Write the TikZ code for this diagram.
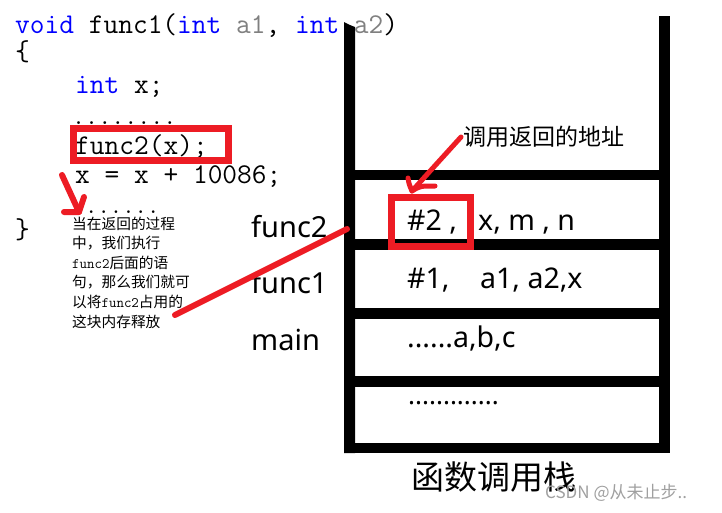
\documentclass[tikz,border=0pt]{standalone}
\usepackage{fontspec}
\newfontfamily\cjk{Noto Sans CJK SC}
\newfontfamily\lat{Noto Sans}
\definecolor{redmark}{HTML}{ED1C24}
\definecolor{kwblue}{HTML}{0000FF}
\definecolor{argray}{HTML}{808080}
\definecolor{wmgray}{HTML}{A0A0A0}
\begin{document}
\begin{tikzpicture}[x=1pt,y=-1pt,
  code/.style={anchor=base west,inner sep=0pt,font=\fontsize{28.6}{28.6}\selectfont\ttfamily},
  dots/.style={anchor=base west,inner sep=0pt},
  note/.style={anchor=base west,inner sep=0pt,font=\fontsize{14.7}{14.7}\selectfont\cjk},
  frame/.style={anchor=base west,inner sep=0pt,font=\fontsize{29}{29}\selectfont\lat},
  cell/.style={anchor=base west,inner sep=0pt,font=\fontsize{28.5}{28.5}\selectfont\lat},
  wall/.style={fill=black},
  redline/.style={draw=redmark,line width=6pt,line cap=round,line join=round},
  redbox/.style={draw=redmark,line width=7pt}
]
\useasboundingbox (0,0) rectangle (722,512);
\fill[white] (0,0) rectangle (722,512);

% ---- code ----
\node[code] (l1) at (15,33) {\textcolor{kwblue}{void} func1(\textcolor{kwblue}{int} \textcolor{argray}{a1}, \textcolor{kwblue}{int} \textcolor{argray}{a2})};
\node[code] (l2) at (15,60) {\{};
\node[code] (l3) at (75,93) {\textcolor{kwblue}{int} x;};
\node[dots,font=\fontsize{25.3}{25.3}\selectfont\ttfamily] (l4) at (72,124) {........};
\node[code] (l5) at (75,154) {func2(x);};
\node[code] (l6) at (75,183) {x = x + 10086;};
\node[dots,font=\fontsize{24}{24}\selectfont\ttfamily] (l7) at (85,213) {......};
\node[code] (l8) at (15,238) {\}};

% ---- note ----
\node[note] (n1) at (72,229) {当在返回的过程};
\node[note] (n2) at (72,248.6) {中，我们执行};
\node[note] (n3) at (72,268.2) {{\fontsize{14.5}{14.5}\selectfont\ttfamily func2}后面的语};
\node[note] (n4) at (72,287.8) {句，那么我们就可};
\node[note] (n5) at (72,307.4) {以将{\fontsize{14.5}{14.5}\selectfont\ttfamily func2}占用的};
\node[note] (n6) at (72,327) {这块内存释放};

% ---- frame labels ----
\node[frame] (f2) at (251,237) {func2};
\node[frame] (f1) at (251,293) {func1};
\node[frame] (fm) at (251,350) {main};

% ---- stack ----
\fill[wall] (344,22) -- (350,25) -- (355,27) -- (355,453) -- (344,453) -- cycle;
\fill[wall] (659,16) rectangle (670,453);
\fill[wall] (344,443) rectangle (670,453);
\fill[wall] (355,170) rectangle (659,180);
\fill[wall] (355,239) rectangle (659,250);
\fill[wall] (355,308) rectangle (659,319);
\fill[wall] (355,376) rectangle (659,387);

\node[cell] (c2a) at (407,230) {\#2 ,};
\node[cell] (c2b) at (478,230) {x, m , n};
\node[cell] (c1a) at (407,288) {\#1,};
\node[cell] (c1b) at (480,288) {a1, a2,x};
\node[cell] (cm) at (407,347) {......a,b,c};
\node[cell,font=\fontsize{26}{26}\selectfont\lat] (cd) at (408,404) {.............};

\node[anchor=base west,inner sep=0pt,font=\fontsize{33}{33}\selectfont\cjk] (title) at (411,489) {函数调用栈};
\node[anchor=base west,inner sep=0pt,font=\fontsize{23}{23}\selectfont\cjk] (addr) at (463,145) {调用返回的地址};

% ---- red marks ----
\draw[redbox] (73.5,128.5) rectangle (228.5,160.5);
\draw[redbox] (391.5,197.5) rectangle (470.5,246.5);

\coordinate (a1s) at (62,175);
\coordinate (a1t) at (79,212);
\coordinate (a1l) at (64,212);
\coordinate (a1r) at (84,197);
\draw[redline] (a1s) -- (a1t) -- (a1l);
\draw[redline] (a1t) -- (a1r);

\coordinate (ls) at (175,315);
\coordinate (le) at (347,229);
\draw[redline] (ls) -- (le);

\coordinate (a2s) at (461,137);
\coordinate (a2t) at (412,191);
\coordinate (a2l) at (408,178);
\coordinate (a2r) at (435,186);
\draw[redline,line width=5pt] (a2s) -- (a2t);
\draw[redline,line width=5pt] (a2l) .. controls (409,184) .. (a2t) .. controls (420,186) .. (a2r);

% ---- watermark ----
\node[anchor=west,inner sep=0pt,text=wmgray,font=\fontsize{17}{17}\selectfont\cjk] (wm) at (545,493) {CSDN @从未止步..};
\end{tikzpicture}
\end{document}
